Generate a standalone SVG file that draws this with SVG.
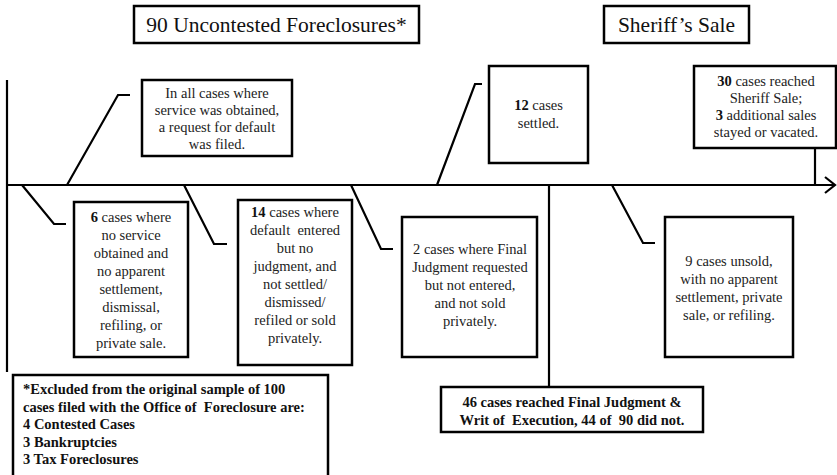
<svg xmlns="http://www.w3.org/2000/svg" width="837" height="475" viewBox="0 0 837 475">
<style>
.box{fill:#fff;stroke:#000;stroke-width:2.5}
.ln{fill:none;stroke:#000;stroke-width:2.2;stroke-linejoin:miter}
text{font-family:'Liberation Serif','Times New Roman','DejaVu Serif',serif}
.t{font-size:14.5px;fill:#222;text-anchor:middle}
.h{font-size:21.5px;fill:#111;text-anchor:middle}
.bt{font-size:14.5px;font-weight:bold;fill:#111}
.b{font-weight:bold;fill:#111}
</style>
<rect width="837" height="475" fill="#fff"/>
<g id="connectors">
<line class="ln" x1="7" y1="80" x2="7" y2="372"/>
<line class="ln" x1="7" y1="185" x2="834" y2="185"/>
<polyline class="ln" points="825,177 835,185 825,193"/>
<polyline class="ln" points="67,185 118,95 130,95"/>
<polyline class="ln" points="437,185 475,84 482,84"/>
<line class="ln" x1="815" y1="148" x2="815" y2="185"/>
<polyline class="ln" points="22,185 54,224 66,224"/>
<polyline class="ln" points="184,185 214,244 227,244"/>
<polyline class="ln" points="351,185 381,249 393,249"/>
<line class="ln" x1="549" y1="185" x2="549" y2="387"/>
<polyline class="ln" points="612,185 643,243 655,243"/>
</g>
<g id="title-uncontested">
<rect class="box" x="134" y="6" width="285" height="37"/>
<text class="h" x="276.5" y="32">90 Uncontested Foreclosures*</text>
</g>
<g id="title-sheriff">
<rect class="box" x="604" y="6" width="145" height="37"/>
<text class="h" x="676.5" y="32">Sheriff’s Sale</text>
</g>
<g id="node-default-request">
<rect class="box" x="142" y="80" width="150" height="76"/>
<text class="t" x="217" y="97.5"><tspan x="217">In all cases where</tspan><tspan x="217" dy="17">service was obtained,</tspan><tspan x="217" dy="17">a request for default</tspan><tspan x="217" dy="17">was filed.</tspan></text>
</g>
<g id="node-settled">
<rect class="box" x="489" y="66" width="99" height="97"/>
<text class="t" x="538.5" y="110"><tspan x="538.5"><tspan class="b">12</tspan> cases</tspan><tspan x="538.5" dy="18">settled.</tspan></text>
</g>
<g id="node-sheriff-sale">
<rect class="box" x="694" y="66" width="142" height="82"/>
<text class="t" x="766" y="86"><tspan x="766"><tspan class="b">30</tspan> cases reached</tspan><tspan x="766" dy="17">Sheriff Sale;</tspan><tspan x="766" dy="17"><tspan class="b">3</tspan> additional sales</tspan><tspan x="766" dy="17">stayed or vacated.</tspan></text>
</g>
<g id="node-no-service">
<rect class="box" x="74" y="202" width="114" height="155"/>
<text class="t" x="131" y="222"><tspan x="131"><tspan class="b">6</tspan> cases where</tspan><tspan x="131" dy="18">no service</tspan><tspan x="131" dy="18">obtained and</tspan><tspan x="131" dy="18">no apparent</tspan><tspan x="131" dy="18">settlement,</tspan><tspan x="131" dy="18">dismissal,</tspan><tspan x="131" dy="18">refiling, or</tspan><tspan x="131" dy="18">private sale.</tspan></text>
</g>
<g id="node-default-entered">
<rect class="box" x="238" y="200" width="114" height="165"/>
<text class="t" x="295" y="217" xml:space="preserve"><tspan x="295"><tspan class="b">14</tspan> cases where</tspan><tspan x="295" dy="18">default  entered</tspan><tspan x="295" dy="18">but no</tspan><tspan x="295" dy="18">judgment, and</tspan><tspan x="295" dy="18">not settled/</tspan><tspan x="295" dy="18">dismissed/</tspan><tspan x="295" dy="18">refiled or sold</tspan><tspan x="295" dy="18">privately.</tspan></text>
</g>
<g id="node-judgment-requested">
<rect class="box" x="402" y="217" width="135" height="140"/>
<text class="t" x="470" y="254"><tspan x="470">2 cases where Final</tspan><tspan x="470" dy="18">Judgment requested</tspan><tspan x="470" dy="18">but not entered,</tspan><tspan x="470" dy="18">and not sold</tspan><tspan x="470" dy="18">privately.</tspan></text>
</g>
<g id="node-unsold">
<rect class="box" x="665" y="217" width="128" height="140"/>
<text class="t" x="729" y="266"><tspan x="729">9 cases unsold,</tspan><tspan x="729" dy="18">with no apparent</tspan><tspan x="729" dy="18">settlement, private</tspan><tspan x="729" dy="18">sale, or refiling.</tspan></text>
</g>
<g id="node-final-judgment">
<rect class="box" x="441" y="387" width="262" height="45"/>
<text class="bt" x="572" y="407" text-anchor="middle" xml:space="preserve"><tspan x="572">46 cases reached Final Judgment &amp;</tspan><tspan x="572" dy="18">Writ of  Execution, 44 of  90 did not.</tspan></text>
</g>
<g id="note-excluded">
<rect class="box" x="13" y="375" width="315" height="110"/>
<text class="bt" x="23" y="394" xml:space="preserve"><tspan x="23">*Excluded from the original sample of 100</tspan><tspan x="23" dy="17.5">cases filed with the Office of  Foreclosure are:</tspan><tspan x="23" dy="17.5">4 Contested Cases</tspan><tspan x="23" dy="17.5">3 Bankruptcies</tspan><tspan x="23" dy="17.5">3 Tax Foreclosures</tspan></text>
</g>
</svg>
